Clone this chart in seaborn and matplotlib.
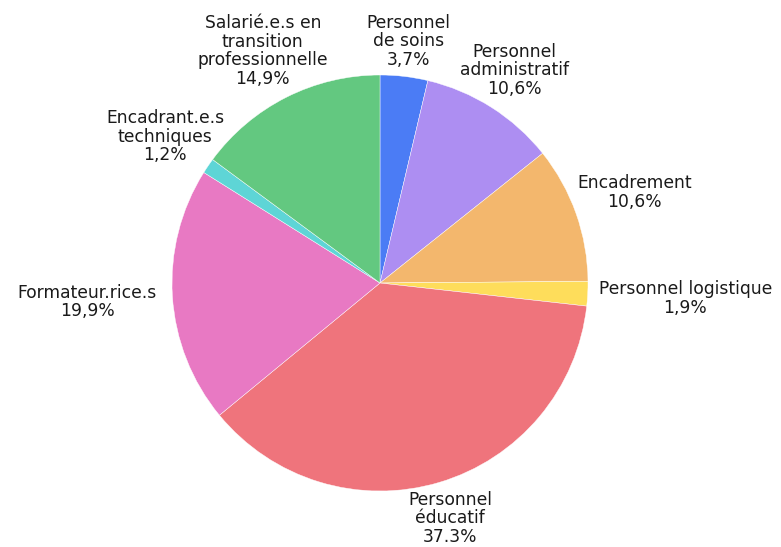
import matplotlib
matplotlib.use("Agg")
import matplotlib.pyplot as plt
import seaborn as sns
import numpy as np

# === Data ===
categories = [
    "Personnel\nde soins",
    "Personnel\nadministratif",
    "Encadrement",
    "Personnel logistique",
    "Personnel\néducatif",
    "Formateur.rice.s",
    "Encadrant.e.s\ntechniques",
    "Salarié.e.s en\ntransition\nprofessionnelle",
]
values = [3.7, 10.6, 10.6, 1.9, 37.3, 19.9, 1.2, 14.9]
pct_labels = ["3,7%", "10,6%", "10,6%", "1,9%", "37.3%", "19,9%", "1,2%", "14,9%"]
colors = ["#4b7cf5", "#ad8ef2", "#f3b76d", "#fedd5b",
          "#ef747c", "#e879c3", "#5ed5d6", "#63c880"]

# label distance from centre (in radii) for each slice
label_dist = [1.17, 1.21, 1.30, 1.47, 1.18, 1.41, 1.25, 1.25]

sns.set_theme(style="white")
plt.rcParams['font.family'] = ['DejaVu Sans']

fig = plt.figure(figsize=(7.81, 5.47), dpi=100)
ax = fig.add_axes([0, 0, 1, 1])

wedges, _ = ax.pie(values, colors=sns.color_palette(colors), startangle=90,
                   counterclock=False, radius=1.0,
                   wedgeprops=dict(linewidth=0.3, edgecolor="white"))

for w, cat, pct, d in zip(wedges, categories, pct_labels, label_dist):
    ang = np.deg2rad((w.theta1 + w.theta2) / 2)
    ax.text(d * np.cos(ang), d * np.sin(ang), f"{cat}\n{pct}",
            ha="center", va="center", multialignment="center",
            fontsize=12.3, color="#1a1a1a", linespacing=1.05)

# place the pie centre at (380, 283) px with radius 208 px
ax.set_xlim(-380 / 208, (781 - 380) / 208)
ax.set_ylim(-(547 - 283) / 208, 283 / 208)
ax.axis("off")

plt.savefig("out.png", dpi=100)
plt.close()
